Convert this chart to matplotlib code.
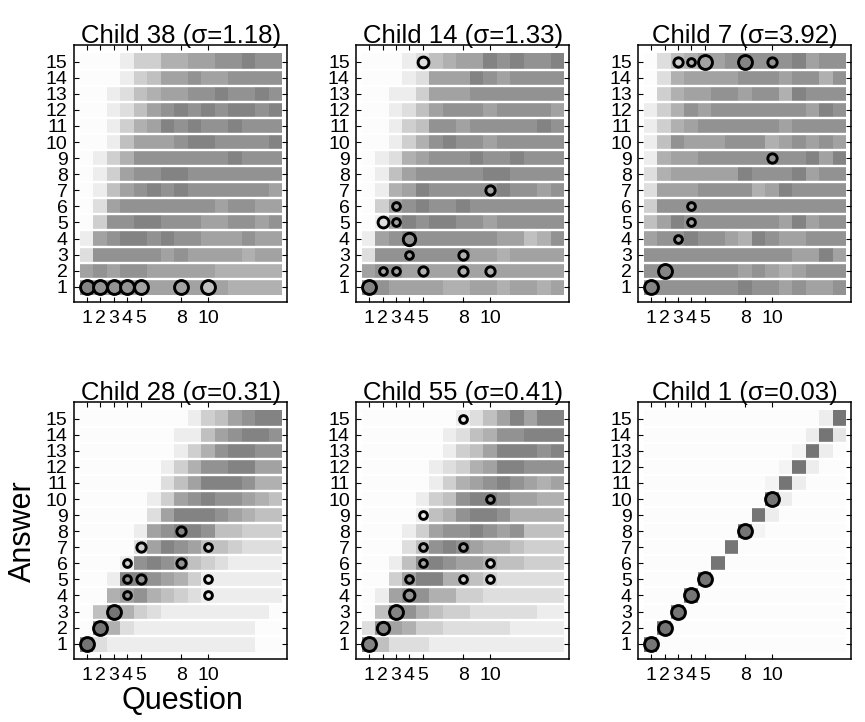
import matplotlib
matplotlib.use('Agg')
import matplotlib.pyplot as plt
from matplotlib.colors import LinearSegmentedColormap

plt.rcParams['font.family'] = ['Liberation Sans', 'DejaVu Sans']

# shading levels 0 (white) .. 9 (dark); rows listed from answer 15 down to answer 1
child38 = [
    [0, 0, 0, 1, 3, 3, 5, 5, 6, 6, 7, 7, 8, 7, 7],
    [0, 0, 0, 1, 3, 4, 6, 6, 7, 6, 6, 7, 7, 7, 7],
    [0, 0, 1, 2, 4, 5, 6, 6, 7, 7, 8, 7, 7, 8, 7],
    [0, 0, 1, 2, 4, 6, 7, 8, 7, 8, 7, 8, 8, 7, 8],
    [0, 0, 1, 3, 5, 6, 8, 7, 8, 7, 7, 8, 7, 7, 7],
    [0, 0, 1, 4, 6, 6, 6, 7, 8, 8, 7, 7, 7, 7, 8],
    [0, 1, 3, 5, 7, 7, 7, 7, 7, 7, 7, 8, 7, 7, 7],
    [0, 1, 3, 6, 7, 7, 8, 8, 7, 7, 7, 7, 7, 7, 7],
    [0, 1, 4, 6, 7, 8, 7, 8, 7, 7, 7, 7, 7, 7, 6],
    [0, 2, 6, 7, 7, 7, 7, 7, 7, 7, 6, 7, 7, 6, 6],
    [0, 3, 7, 7, 8, 8, 7, 7, 7, 6, 6, 7, 7, 6, 7],
    [1, 6, 7, 8, 8, 7, 8, 7, 7, 6, 6, 6, 7, 6, 6],
    [2, 7, 7, 7, 7, 7, 6, 7, 6, 6, 6, 6, 5, 6, 6],
    [6, 7, 6, 7, 7, 6, 6, 6, 6, 6, 5, 5, 5, 5, 5],
    [7, 6, 6, 6, 6, 6, 6, 6, 6, 6, 6, 5, 5, 5, 5],
]
child14 = [
    [0, 0, 0, 1, 2, 4, 5, 6, 6, 8, 7, 8, 7, 7, 8],
    [0, 0, 0, 1, 2, 6, 6, 6, 8, 7, 6, 7, 7, 7, 7],
    [0, 0, 1, 1, 3, 6, 6, 6, 7, 7, 7, 7, 7, 7, 7],
    [0, 0, 1, 2, 4, 6, 7, 7, 7, 6, 7, 7, 7, 7, 6],
    [0, 0, 1, 3, 4, 7, 7, 6, 7, 7, 7, 7, 7, 8, 7],
    [0, 0, 1, 3, 5, 7, 8, 7, 7, 6, 7, 7, 7, 7, 7],
    [0, 1, 2, 5, 6, 7, 7, 7, 8, 7, 7, 8, 7, 7, 7],
    [0, 1, 4, 6, 7, 7, 7, 7, 7, 8, 8, 7, 7, 7, 7],
    [0, 1, 5, 6, 8, 7, 7, 7, 7, 7, 8, 7, 7, 6, 7],
    [0, 3, 6, 7, 8, 7, 7, 8, 7, 7, 7, 7, 7, 7, 7],
    [0, 1, 6, 8, 7, 8, 8, 7, 7, 6, 7, 7, 7, 7, 7],
    [1, 6, 7, 8, 7, 7, 7, 7, 7, 7, 6, 6, 4, 5, 7],
    [2, 7, 7, 7, 7, 7, 7, 7, 6, 6, 5, 6, 6, 6, 6],
    [6, 7, 7, 6, 6, 6, 6, 6, 6, 6, 6, 6, 6, 6, 6],
    [7, 7, 6, 6, 6, 6, 5, 5, 6, 6, 5, 6, 6, 5, 6],
]
child7 = [
    [0, 2, 4, 5, 6, 6, 7, 7, 7, 7, 7, 8, 6, 7, 7],
    [0, 2, 5, 6, 6, 6, 6, 7, 7, 7, 6, 7, 7, 5, 7],
    [0, 3, 5, 6, 6, 7, 7, 6, 7, 7, 5, 8, 7, 7, 7],
    [1, 3, 5, 7, 6, 7, 7, 7, 7, 7, 7, 7, 6, 8, 7],
    [1, 3, 5, 6, 7, 7, 7, 7, 7, 7, 6, 7, 7, 7, 7],
    [1, 4, 7, 6, 6, 6, 7, 7, 7, 5, 6, 7, 6, 7, 6],
    [1, 5, 6, 6, 7, 7, 7, 7, 7, 7, 7, 7, 8, 6, 8],
    [2, 5, 6, 6, 6, 6, 6, 8, 7, 7, 7, 8, 6, 7, 7],
    [2, 6, 6, 6, 7, 7, 7, 7, 5, 6, 8, 7, 7, 7, 7],
    [3, 7, 7, 7, 7, 7, 7, 7, 7, 7, 7, 7, 7, 7, 7],
    [4, 6, 8, 7, 7, 7, 7, 7, 7, 7, 6, 8, 6, 7, 7],
    [6, 7, 7, 8, 7, 7, 6, 5, 8, 7, 6, 6, 7, 7, 7],
    [7, 7, 7, 7, 7, 7, 7, 7, 7, 7, 7, 6, 6, 8, 6],
    [7, 7, 7, 7, 7, 7, 7, 6, 7, 6, 5, 6, 7, 7, 7],
    [7, 7, 7, 7, 7, 7, 7, 8, 7, 7, 6, 7, 6, 6, 7],
]
child28 = [
    [0, 0, 0, 0, 0, 0, 0, 0, 1, 3, 4, 6, 7, 8, 8],
    [0, 0, 0, 0, 0, 0, 0, 1, 1, 4, 6, 7, 8, 8, 7],
    [0, 0, 0, 0, 0, 0, 0, 1, 3, 5, 7, 8, 8, 7, 7],
    [0, 0, 0, 0, 0, 0, 1, 3, 5, 7, 7, 8, 8, 6, 6],
    [0, 0, 0, 0, 0, 0, 2, 4, 6, 8, 8, 8, 7, 5, 5],
    [0, 0, 0, 0, 0, 1, 3, 6, 7, 8, 7, 7, 6, 5, 4],
    [0, 0, 0, 0, 0, 2, 6, 8, 8, 8, 7, 6, 5, 4, 4],
    [0, 0, 0, 0, 1, 6, 7, 8, 8, 7, 4, 4, 3, 3, 3],
    [0, 0, 0, 0, 2, 6, 8, 7, 6, 4, 4, 3, 2, 2, 2],
    [0, 0, 0, 1, 7, 8, 7, 6, 4, 3, 2, 1, 1, 1, 1],
    [0, 0, 1, 8, 8, 7, 6, 5, 3, 1, 1, 1, 1, 1, 1],
    [0, 0, 5, 6, 7, 5, 4, 3, 2, 1, 1, 1, 1, 1, 1],
    [0, 4, 8, 5, 3, 2, 1, 1, 1, 1, 1, 1, 1, 1, 0],
    [0, 8, 5, 2, 1, 1, 1, 1, 1, 1, 1, 1, 1, 0, 0],
    [8, 2, 1, 1, 1, 1, 1, 1, 1, 1, 1, 1, 1, 0, 0],
]
child55 = [
    [0, 0, 0, 0, 0, 0, 0, 1, 2, 4, 6, 8, 6, 8, 8],
    [0, 0, 0, 0, 0, 0, 1, 2, 4, 5, 7, 7, 8, 8, 8],
    [0, 0, 0, 0, 0, 0, 1, 3, 4, 6, 8, 8, 8, 7, 8],
    [0, 0, 0, 0, 0, 1, 2, 3, 5, 6, 8, 8, 7, 7, 7],
    [0, 0, 0, 0, 0, 1, 3, 5, 6, 7, 8, 7, 6, 5, 6],
    [0, 0, 0, 0, 1, 3, 4, 7, 8, 8, 7, 6, 6, 5, 5],
    [0, 0, 0, 0, 1, 4, 5, 7, 8, 8, 7, 5, 5, 5, 5],
    [0, 0, 0, 1, 3, 6, 7, 7, 8, 7, 6, 7, 4, 4, 4],
    [0, 0, 0, 2, 4, 7, 8, 7, 6, 5, 5, 4, 3, 3, 3],
    [0, 0, 1, 4, 7, 8, 7, 6, 6, 5, 4, 4, 3, 3, 3],
    [0, 0, 3, 6, 8, 8, 5, 5, 4, 3, 2, 2, 2, 2, 2],
    [0, 1, 6, 7, 7, 5, 5, 3, 3, 2, 2, 2, 2, 2, 2],
    [0, 4, 7, 7, 5, 4, 3, 3, 2, 2, 2, 2, 2, 1, 1],
    [2, 7, 6, 5, 3, 3, 2, 2, 2, 2, 2, 1, 1, 1, 1],
    [8, 4, 2, 2, 2, 1, 1, 1, 1, 1, 1, 1, 1, 1, 1],
]
child1 = [
    [0, 0, 0, 0, 0, 0, 0, 0, 0, 0, 0, 0, 0, 1, 9],
    [0, 0, 0, 0, 0, 0, 0, 0, 0, 0, 0, 0, 1, 9, 1.5],
    [0, 0, 0, 0, 0, 0, 0, 0, 0, 0, 0, 0.5, 9, 1, 0],
    [0, 0, 0, 0, 0, 0, 0, 0, 0, 0, 0.5, 9, 1, 0, 0],
    [0, 0, 0, 0, 0, 0, 0, 0, 0, 0.5, 9, 1, 0, 0, 0],
    [0, 0, 0, 0, 0, 0, 0, 0, 0, 9, 1, 0, 0, 0, 0],
    [0, 0, 0, 0, 0, 0, 0, 0, 9, 1, 0, 0, 0, 0, 0],
    [0, 0, 0, 0, 0, 0, 0, 9, 0.5, 0, 0, 0, 0, 0, 0],
    [0, 0, 0, 0, 0, 0, 9, 0, 0, 0, 0, 0, 0, 0, 0],
    [0, 0, 0, 0, 0, 9, 0, 0, 0, 0, 0, 0, 0, 0, 0],
    [0, 0, 0, 0, 9, 0, 0, 0, 0, 0, 0, 0, 0, 0, 0],
    [0, 0, 0, 9, 0, 0, 0, 0, 0, 0, 0, 0, 0, 0, 0],
    [0, 0, 9, 0, 0, 0, 0, 0, 0, 0, 0, 0, 0, 0, 0],
    [0, 9, 0, 0, 0, 0, 0, 0, 0, 0, 0, 0, 0, 0, 0],
    [9, 0, 0, 0, 0, 0, 0, 0, 0, 0, 0, 0, 0, 0, 0],
]

# child responses: question, answer, count, shade
c38_q = [1, 2, 3, 4, 5, 8, 10]
c38_a = [1, 1, 1, 1, 1, 1, 1]
c38_n = [5, 5, 5, 5, 5, 5, 5]
c38_s = [8, 7, 7, 7, 6, 6, 4]

c14_q = [1, 2, 3, 5, 8, 10, 4, 8, 4, 2, 3, 3, 10, 5]
c14_a = [1, 2, 2, 2, 2, 2, 3, 3, 4, 5, 5, 6, 7, 15]
c14_n = [5, 1, 1, 2, 2, 2, 1, 2, 4, 3, 1, 1, 2, 3]
c14_s = [8, 6, 6, 5, 5, 5, 6, 5, 7, 2, 6, 6, 6, 2]

c7_q = [1, 2, 3, 4, 4, 10, 3, 4, 5, 8, 10]
c7_a = [1, 2, 4, 5, 6, 9, 15, 15, 15, 15, 15]
c7_n = [5, 5, 1, 1, 1, 2, 2, 1, 5, 5, 2]
c7_s = [8, 8, 6, 6, 6, 7, 3, 5, 6, 8, 7]

c28_q = [1, 2, 3, 4, 10, 4, 5, 10, 4, 8, 5, 10, 8]
c28_a = [1, 2, 3, 4, 4, 5, 5, 5, 6, 6, 7, 7, 8]
c28_n = [5, 5, 5, 1, 1, 1, 2, 1, 1, 2, 2, 1, 2]
c28_s = [9, 9, 9, 7, 1, 7, 7, 1, 3, 7, 3, 3, 8]

c55_q = [1, 2, 3, 4, 4, 8, 10, 5, 10, 5, 8, 5, 10, 8]
c55_a = [1, 2, 3, 4, 5, 5, 5, 6, 6, 7, 7, 9, 10, 15]
c55_n = [5, 4, 5, 3, 1, 1, 1, 1, 1, 1, 1, 1, 1, 1]
c55_s = [8, 8, 8, 7, 7, 3, 2, 6, 2, 5, 6, 1, 7, 1]

c1_q = [1, 2, 3, 4, 5, 8, 10]
c1_a = [1, 2, 3, 4, 5, 8, 10]
c1_n = [5, 5, 5, 5, 5, 5, 5]
c1_s = [9, 9, 9, 9, 9, 9, 9]

titles = ['Child 38 (σ=1.18)', 'Child 14 (σ=1.33)', 'Child 7 (σ=3.92)',
          'Child 28 (σ=0.31)', 'Child 55 (σ=0.41)', 'Child 1 (σ=0.03)']
grids = [child38, child14, child7, child28, child55, child1]
responses = [(c38_q, c38_a, c38_n, c38_s), (c14_q, c14_a, c14_n, c14_s),
             (c7_q, c7_a, c7_n, c7_s), (c28_q, c28_a, c28_n, c28_s),
             (c55_q, c55_a, c55_n, c55_s), (c1_q, c1_a, c1_n, c1_s)]
xticks = [1, 2, 3, 4, 5, 8, 10]
yticks = list(range(1, 16))

cmap = LinearSegmentedColormap.from_list('shade', ['#fcfcfc', '#757575'])

fig = plt.figure(figsize=(8.65, 7.22), dpi=100)
lefts = [0.0855, 0.4116, 0.7376]
bottoms = [0.5817, 0.0873]

for i in range(6):
    ax = fig.add_axes([lefts[i % 3], bottoms[i // 3], 0.2465, 0.356])
    ax.imshow(grids[i], cmap=cmap, vmin=0, vmax=9, extent=(0.5, 15.5, 0.5, 15.5),
              aspect='auto', interpolation='nearest')
    # white separators between answer rows
    for y in range(1, 15):
        ax.plot([0.5, 15.5], [y + 0.5, y + 0.5], color='white', lw=1.7)
    q, a, n, s = responses[i]
    for k in range(len(q)):
        ax.plot(q[k], a[k], 'o', ms=4.5 + 1.1 * n[k], mfc=cmap(s[k] / 9),
                mec='black', mew=2.1)
    ax.set_xlim(0.03, 15.88)
    ax.set_ylim(0.05, 16.04)
    ax.set_xticks(xticks)
    ax.set_yticks(yticks)
    ax.tick_params(direction='in', length=3.5, width=0.8, top=True, right=True,
                   labelsize=14)
    ax.tick_params(axis='x', pad=6)
    ax.tick_params(axis='y', pad=4.5)
    for sp in ax.spines.values():
        sp.set_linewidth(1.1)
    ax.set_title(titles[i], fontsize=18.5, pad=1.5)

fig.text(0.027, 0.265, 'Answer', rotation=90, ha='center', va='center', fontsize=22)
fig.text(0.211, 0.018, 'Question', ha='center', va='baseline', fontsize=22)

fig.savefig('out.png', dpi=100)
